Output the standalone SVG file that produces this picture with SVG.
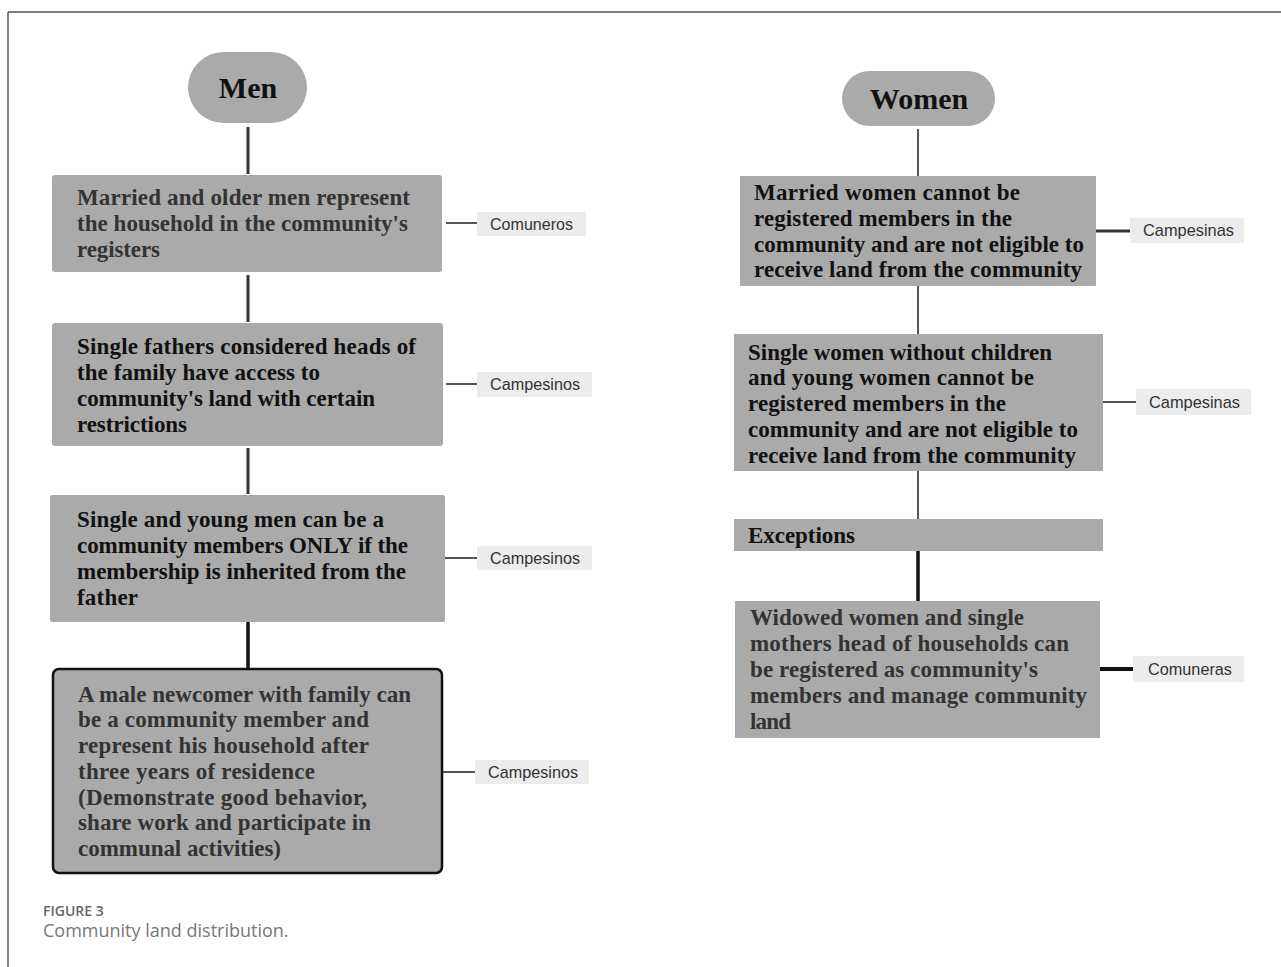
<svg xmlns="http://www.w3.org/2000/svg" width="1281" height="967" viewBox="0 0 1281 967">
<style>
.box{fill:#aaaaaa;}
.pill{fill:#aaaaaa;}
.lbl{fill:#ececec;}
.t{font-family:"Liberation Serif","Times New Roman",serif;font-weight:bold;font-size:23px;fill:#111;}
.tg{fill:#333;}
.title{font-family:"Liberation Serif","Times New Roman",serif;font-weight:bold;font-size:30px;fill:#111;text-anchor:middle;}
.lt{font-family:"Liberation Sans",Arial,sans-serif;font-size:17px;fill:#333;}
.c1{stroke:#333;stroke-width:3;fill:none;}
.c2{stroke:#555;stroke-width:2;fill:none;}
.c3{stroke:#111;stroke-width:3.5;fill:none;}
.cap1{font-family:"Open Sans","Noto Sans",sans-serif;font-size:14px;font-weight:600;fill:#666;}
.cap2{font-family:"Open Sans","Noto Sans",sans-serif;font-size:18px;fill:#777;}
</style>
<rect x="0" y="0" width="1281" height="967" fill="#ffffff"/>
<g id="frame">
<line x1="8" y1="12" x2="1281" y2="12" stroke="#555" stroke-width="1.5"/>
<line x1="8" y1="12" x2="8" y2="967" stroke="#555" stroke-width="1.5"/>
</g>
<g id="connectors">
<line class="c1" x1="248" y1="127" x2="248" y2="174"/>
<line class="c1" x1="248" y1="275" x2="248" y2="322"/>
<line class="c1" x1="248" y1="448" x2="248" y2="494"/>
<line class="c3" x1="248" y1="622" x2="248" y2="668"/>
<line class="c2" x1="446" y1="223" x2="477" y2="223"/>
<line class="c2" x1="446" y1="384" x2="477" y2="384"/>
<line class="c2" x1="445" y1="558" x2="477" y2="558"/>
<line class="c2" x1="443" y1="772" x2="475" y2="772"/>
<line class="c2" x1="918" y1="129" x2="918" y2="176"/>
<line class="c2" x1="918" y1="286" x2="918" y2="334"/>
<line class="c2" x1="918" y1="471" x2="918" y2="519"/>
<line class="c3" x1="918" y1="551" x2="918" y2="601"/>
<line class="c1" x1="1096" y1="231" x2="1130" y2="231"/>
<line class="c2" x1="1103" y1="402" x2="1136" y2="402"/>
<line stroke="#111" stroke-width="4" x1="1100" y1="669" x2="1133" y2="669"/>
</g>
<g id="men">
<rect class="pill" x="188" y="52" width="119" height="71" rx="35.5"/>
<text class="title" x="248" y="98">Men</text>
</g>
<g id="m1">
<rect class="box" x="52" y="175" width="390" height="97" rx="3"/>
<text class="t tg" x="77" y="205" textLength="333" lengthAdjust="spacing">Married and older men represent</text>
<text class="t tg" x="77" y="231" textLength="331" lengthAdjust="spacing">the household in the community's</text>
<text class="t tg" x="77" y="257" textLength="83" lengthAdjust="spacing">registers</text>
</g>
<g id="m2">
<rect class="box" x="52" y="323" width="391" height="123" rx="3"/>
<text class="t" x="77" y="354" textLength="339" lengthAdjust="spacing">Single fathers considered heads of</text>
<text class="t" x="77" y="380" textLength="243" lengthAdjust="spacing">the family have access to</text>
<text class="t" x="77" y="406" textLength="298" lengthAdjust="spacing">community's land with certain</text>
<text class="t" x="77" y="432" textLength="110" lengthAdjust="spacing">restrictions</text>
</g>
<g id="m3">
<rect class="box" x="50" y="495" width="395" height="127" rx="2"/>
<text class="t" x="77" y="527" textLength="307" lengthAdjust="spacing">Single and young men can be a</text>
<text class="t" x="77" y="553" textLength="331" lengthAdjust="spacing">community members ONLY if the</text>
<text class="t" x="77" y="579" textLength="329" lengthAdjust="spacing">membership is inherited from the</text>
<text class="t" x="77" y="605" textLength="61" lengthAdjust="spacing">father</text>
</g>
<g id="m4">
<rect class="box" x="53" y="669" width="389" height="204" rx="6" stroke="#111" stroke-width="2.5"/>
<text class="t tg" x="78" y="702" textLength="333" lengthAdjust="spacing">A male newcomer with family can</text>
<text class="t tg" x="78" y="727" textLength="291" lengthAdjust="spacing">be a community member and</text>
<text class="t tg" x="78" y="753" textLength="291" lengthAdjust="spacing">represent his household after</text>
<text class="t tg" x="78" y="779" textLength="237" lengthAdjust="spacing">three years of residence</text>
<text class="t tg" x="78" y="805" textLength="289" lengthAdjust="spacing">(Demonstrate good behavior,</text>
<text class="t tg" x="78" y="830" textLength="293" lengthAdjust="spacing">share work and participate in</text>
<text class="t tg" x="78" y="856" textLength="203" lengthAdjust="spacing">communal activities)</text>
</g>
<g id="lm1">
<rect class="lbl" x="477" y="212" width="109" height="24"/>
<text class="lt" x="490" y="230" textLength="83" lengthAdjust="spacingAndGlyphs">Comuneros</text>
</g>
<g id="lm2">
<rect class="lbl" x="477" y="372" width="115" height="25"/>
<text class="lt" x="490" y="390" textLength="90" lengthAdjust="spacingAndGlyphs">Campesinos</text>
</g>
<g id="lm3">
<rect class="lbl" x="477" y="546" width="115" height="24"/>
<text class="lt" x="490" y="564" textLength="90" lengthAdjust="spacingAndGlyphs">Campesinos</text>
</g>
<g id="lm4">
<rect class="lbl" x="475" y="760" width="114" height="24"/>
<text class="lt" x="488" y="778" textLength="90" lengthAdjust="spacingAndGlyphs">Campesinos</text>
</g>
<g id="women">
<rect class="pill" x="842" y="71" width="153" height="55" rx="27.5"/>
<text class="title" x="919" y="109">Women</text>
</g>
<g id="w1">
<rect class="box" x="740" y="176" width="356" height="110"/>
<text class="t" x="754" y="200" textLength="266" lengthAdjust="spacing">Married women cannot be</text>
<text class="t" x="754" y="226" textLength="258" lengthAdjust="spacing">registered members in the</text>
<text class="t" x="754" y="252" textLength="330" lengthAdjust="spacing">community and are not eligible to</text>
<text class="t" x="754" y="277" textLength="328" lengthAdjust="spacing">receive land from the community</text>
</g>
<g id="w2">
<rect class="box" x="734" y="334" width="369" height="137"/>
<text class="t" x="748" y="360" textLength="304" lengthAdjust="spacing">Single women without children</text>
<text class="t" x="748" y="385" textLength="286" lengthAdjust="spacing">and young women cannot be</text>
<text class="t" x="748" y="411" textLength="258" lengthAdjust="spacing">registered members in the</text>
<text class="t" x="748" y="437" textLength="330" lengthAdjust="spacing">community and are not eligible to</text>
<text class="t" x="748" y="463" textLength="328" lengthAdjust="spacing">receive land from the community</text>
</g>
<g id="exceptions">
<rect class="box" x="734" y="519" width="369" height="32"/>
<text class="t" x="748" y="543" textLength="107" lengthAdjust="spacing">Exceptions</text>
</g>
<g id="w3">
<rect class="box" x="735" y="601" width="365" height="137"/>
<text class="t tg" x="750" y="625" textLength="274" lengthAdjust="spacing">Widowed women and single</text>
<text class="t tg" x="750" y="651" textLength="319" lengthAdjust="spacing">mothers head of households can</text>
<text class="t tg" x="750" y="677" textLength="288" lengthAdjust="spacing">be registered as community's</text>
<text class="t tg" x="750" y="703" textLength="337" lengthAdjust="spacing">members and manage community</text>
<text class="t tg" x="750" y="729" textLength="41" lengthAdjust="spacing">land</text>
</g>
<g id="lw1">
<rect class="lbl" x="1130" y="218" width="114" height="25"/>
<text class="lt" x="1143" y="236" textLength="91" lengthAdjust="spacingAndGlyphs">Campesinas</text>
</g>
<g id="lw2">
<rect class="lbl" x="1136" y="389" width="115" height="26"/>
<text class="lt" x="1149" y="408" textLength="91" lengthAdjust="spacingAndGlyphs">Campesinas</text>
</g>
<g id="lw3">
<rect class="lbl" x="1133" y="656" width="111" height="26"/>
<text class="lt" x="1148" y="675" textLength="84" lengthAdjust="spacingAndGlyphs">Comuneras</text>
</g>
<g id="caption">
<text class="cap1" x="43" y="916">FIGURE 3</text>
<text class="cap2" x="43" y="937">Community land distribution.</text>
</g>
</svg>
